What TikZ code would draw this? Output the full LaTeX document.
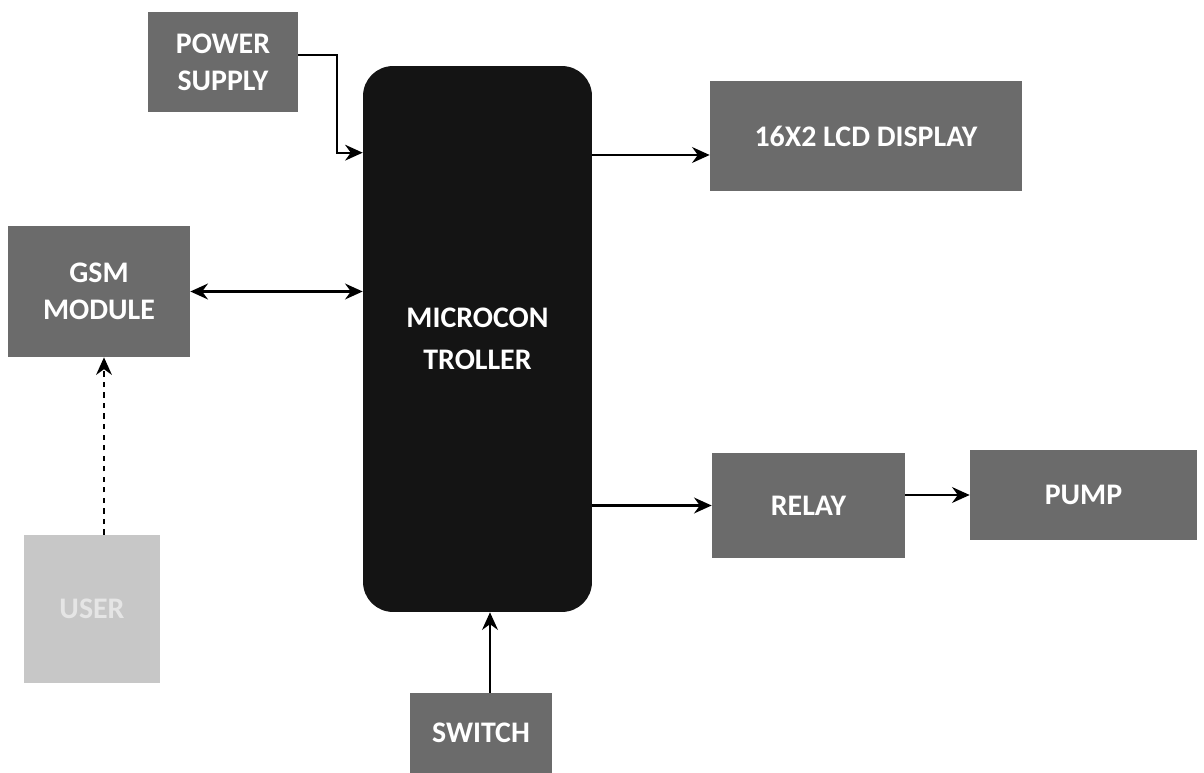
\documentclass[tikz,border=0pt]{standalone}
\usepackage{fontspec}
\setmainfont{Carlito}
\usepackage{xcolor}
\usepackage{tikz}
\usetikzlibrary{arrows.meta,positioning}

\begin{document}
\begin{tikzpicture}[x=0.02cm,y=-0.02cm,
    blk/.style={fill=black!58,text=white,inner sep=0pt,align=center,
        font=\fontsize{17}{21}\selectfont\bfseries},
    arr/.style={line width=1.3pt,-{Stealth[length=10pt,width=9pt]}},
    darr/.style={line width=1.3pt,{Stealth[length=10pt,width=9pt]}-{Stealth[length=10pt,width=9pt]}}]
\useasboundingbox (0,0) rectangle (1204,773);

\node[blk,minimum width=3cm,minimum height=2cm] (power) at (223,62) {POWER\\SUPPLY};
\node[blk,fill=black!92,rounded corners=0.6cm,minimum width=4.58cm,minimum height=10.92cm] (mcu) at (477.5,339) {};
\node[text=white,align=center,font=\fontsize{17}{24}\selectfont\bfseries] (mcutext) at (mcu.center) {MICROCON\\TROLLER};
\node[blk,minimum width=6.24cm,minimum height=2.2cm] (lcd) at (866,136) {16X2 LCD DISPLAY};
\node[blk,minimum width=3.64cm,minimum height=2.62cm] (gsm) at (99,291.5) {GSM\\MODULE};
\node[blk,fill=black!22,text=white!90!black,minimum width=2.72cm,minimum height=2.96cm] (user) at (92,609) {USER};
\node[blk,minimum width=3.86cm,minimum height=2.1cm] (relay) at (808.5,505.5) {RELAY};
\node[blk,minimum width=4.54cm,minimum height=1.8cm] (pump) at (1083.5,495) {PUMP};
\node[blk,minimum width=2.84cm,minimum height=1.6cm] (switch) at (481,733) {SWITCH};

% connectors
\draw[arr] ([yshift=0.14cm]power.east) -- ++(39,0) |- ([yshift=-1.74cm]mcu.north west);
\coordinate (lcdin) at ([yshift=-0.38cm]lcd.west);
\draw[arr] (mcu.east |- lcdin) -- (lcdin);
\draw[darr] (gsm.east) -- (mcu.west |- gsm.east);
\draw[arr] (mcu.east |- relay.west) -- (relay.west);
\draw[arr] (relay.east |- pump.west) -- (pump.west);
\draw[arr] ([xshift=0.18cm]switch.north) -- ([xshift=0.18cm]switch.north |- mcu.south);
\draw[arr,dashed,line width=0.9pt] ([xshift=0.24cm]user.north) -- ([xshift=0.24cm]user.north |- gsm.south);
\end{tikzpicture}
\end{document}
